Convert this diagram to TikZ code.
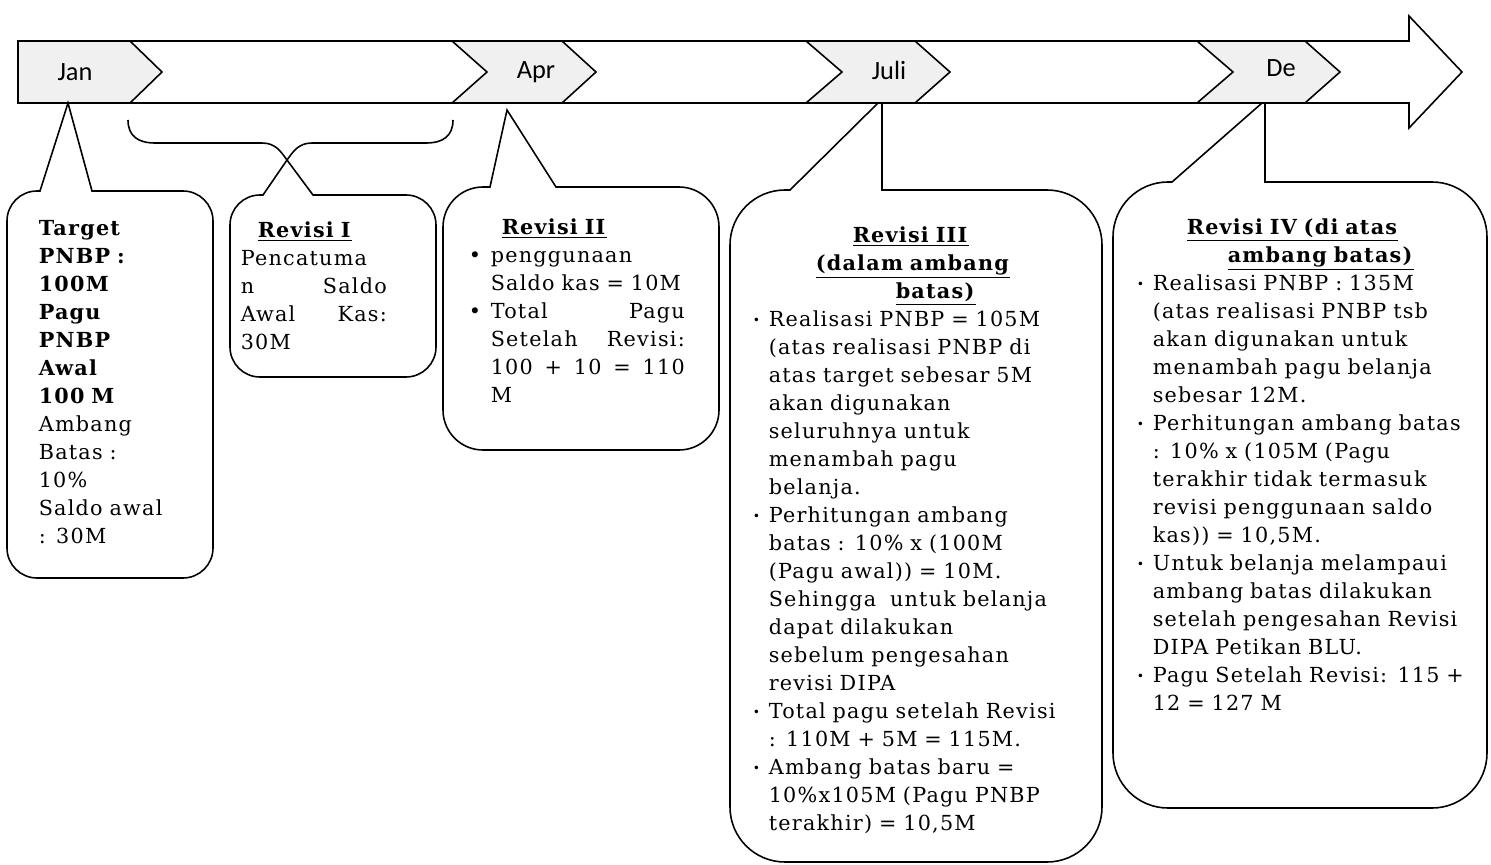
\documentclass[tikz,border=0pt]{standalone}
\usepackage{fontspec}
\setmainfont{DejaVu Serif}[LetterSpace=6]
\newfontfamily\bulanfont{Carlito}
\usepackage{tikz}

\makeatletter
\newcommand{\butir}[2]{\par\noindent\let\\\@normalcr\hangindent=#1\hangafter=1\makebox[#1][l]{#2}\ignorespaces}
\makeatother
\newcommand{\titik}{\raisebox{0.15ex}{\scriptsize\textbullet}}
\newcommand{\judul}[1]{\underline{\textbf{#1}}}

\begin{document}
\begin{tikzpicture}[x=0.02cm, y=-0.02cm, line width=0.9pt,
    pita/.style={draw, fill=white},
    bulan/.style={draw, fill=gray!12},
    bulanteks/.style={font=\bulanfont\fontsize{15}{18}\selectfont, inner sep=0pt},
    callout/.style={draw},
    teks/.style={anchor=north west, inner sep=0pt, font=\fontsize{11.8}{15.93}\selectfont}]

    \useasboundingbox (0,0) rectangle (1491,865);
    \fill[white] (0,0) rectangle (1491,865);

    % Timeline
    \draw[pita] (18,41) -- (1409,41) -- (1409,16) -- (1462,72) -- (1409,128) -- (1409,103) -- (18,103) -- cycle;

    % Months
    \draw[bulan] (18,41) -- (130,41) -- (162,72) -- (130,103) -- (18,103) -- cycle;
    \draw[bulan] (452,41) -- (562,41) -- (596,72) -- (562,103) -- (452,103) -- (487,72) -- cycle;
    \draw[bulan] (806,41) -- (915,41) -- (950,72) -- (915,103) -- (806,103) -- (842,72) -- cycle;
    \draw[bulan] (1197,41) -- (1305,41) -- (1340,72) -- (1305,103) -- (1197,103) -- (1233,72) -- cycle;
    \node[bulanteks] (jan) at (75,72) {Jan};
    \node[bulanteks] (apr) at (536,72) {Apr};
    \node[bulanteks] (juli) at (889,70) {Juli};
    \node[bulanteks] (des) at (1281,68) {De};

    % Callouts
    \coordinate (pJan) at (68,103);
    \coordinate (pApr) at (507,110);
    \draw[callout] (pJan) -- (92,191) [rounded corners=0.6cm] -- (213,191) -- (213,578) -- (7,578) -- (7,191) [sharp corners] -- (40,191) -- cycle;
    \draw[callout] (128,120) .. controls (128,136) and (138,143) .. (155,143) -- (262,143) .. controls (276,143) and (281,152) .. (287,160) -- (313,195) [rounded corners=0.6cm] -- (436,195) -- (436,377) -- (230,377) -- (230,195) [sharp corners] -- (263,195) -- (287,160) .. controls (293,152) and (298,143) .. (312,143) -- (426,143) .. controls (443,143) and (453,136) .. (453,120);
    \draw[callout] (pApr) -- (556,187) [rounded corners=0.8cm] -- (719,187) -- (719,450) -- (443,450) -- (443,187) [sharp corners] -- (490,187) -- cycle;
    \draw[callout] (882,103) -- (882,190) [rounded corners=1.1cm] -- (1102,190) -- (1102,862) -- (730,862) -- (730,190) [sharp corners] -- (790,190) -- (878,103);
    \draw[callout] (1265,103) -- (1265,182) [rounded corners=1.1cm] -- (1487,182) -- (1487,808) -- (1113,808) -- (1113,182) [sharp corners] -- (1172,182) -- (1262,103);

    % Texts
    \node[teks, text width=4cm] (target) at (38,220) {\noindent\textbf{Target}\\ \textbf{PNBP :}\\ \textbf{100M}\\ \textbf{Pagu}\\ \textbf{PNBP}\\ \textbf{Awal}\\ \textbf{100 M}\\ Ambang\\ Batas :\\ 10\%\\ Saldo awal\\ : 30M};

    \node[teks, text width=2.92cm] (rev1) at (240,221) {\noindent\hspace*{0.34cm}\judul{Revisi I}\\ Pencatuma\\ n\hfill Saldo\\ Awal\hfill Kas:\\ 30M};

    \node[teks, text width=4.32cm] (rev2) at (468,218) {\noindent\hspace*{0.66cm}\judul{Revisi II}
        \butir{0.44cm}{\textbullet}penggunaan\\ Saldo kas = 10M
        \butir{0.44cm}{\textbullet}Total\hfill Pagu\\ Setelah\hfill Revisi:\\ 100\hfill+\hfill10\hfill=\hfill110\\ M\par};

    \node[teks, text width=7cm] (rev3) at (752,226) {\noindent\hspace*{2cm}\judul{Revisi III}\\ \hspace*{1.26cm}\judul{(dalam ambang}\\ \hspace*{2.86cm}\judul{batas)}
        \butir{0.32cm}{\titik}Realisasi PNBP = 105M\\ (atas realisasi PNBP di\\ atas target sebesar 5M\\ akan digunakan\\ seluruhnya untuk\\ menambah pagu\\ belanja.
        \butir{0.32cm}{\titik}Perhitungan ambang\\ batas : 10\% x (100M\\ (Pagu awal)) = 10M.\\ Sehingga\ \ untuk belanja\\ dapat dilakukan\\ sebelum pengesahan\\ revisi DIPA
        \butir{0.32cm}{\titik}Total pagu setelah Revisi\\ : 110M + 5M = 115M.
        \butir{0.32cm}{\titik}Ambang batas baru =\\ 10\%x105M (Pagu PNBP\\ terakhir) = 10,5M\par};

    \node[teks, text width=7cm] (rev4) at (1136,218) {\noindent\hspace*{1cm}\judul{Revisi IV (di atas}\\ \hspace*{1.82cm}\judul{ambang batas)}
        \butir{0.32cm}{\titik}Realisasi PNBP : 135M\\ (atas realisasi PNBP tsb\\ akan digunakan untuk\\ menambah pagu belanja\\ sebesar 12M.
        \butir{0.32cm}{\titik}Perhitungan ambang batas\\ : 10\% x (105M (Pagu\\ terakhir tidak termasuk\\ revisi penggunaan saldo\\ kas)) = 10,5M.
        \butir{0.32cm}{\titik}Untuk belanja melampaui\\ ambang batas dilakukan\\ setelah pengesahan Revisi\\ DIPA Petikan BLU.
        \butir{0.32cm}{\titik}Pagu Setelah Revisi: 115 +\\ 12 = 127 M\par};
\end{tikzpicture}
\end{document}
